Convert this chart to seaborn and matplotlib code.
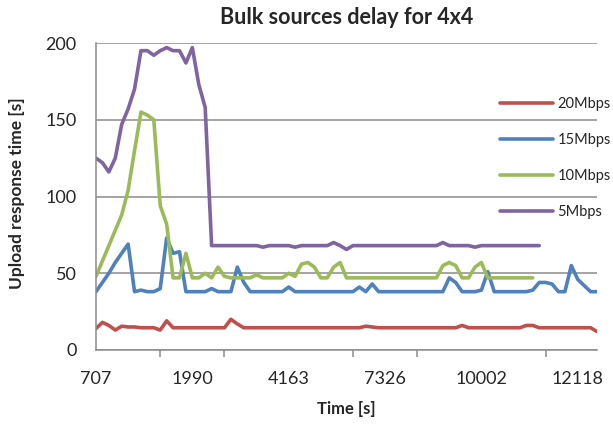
import numpy as np
import pandas as pd
import matplotlib
matplotlib.use('Agg')
import matplotlib.pyplot as plt
import seaborn as sns

## data (79 samples, category axis)
time_labels = ['707', '1990', '4163', '7326', '10002', '12118']
label_pos = [0, 15, 30, 45, 60, 75]

mbps20 = [14, 18, 16, 13, 15.5, 15, 15, 14.5, 14.5, 14.5,
          13, 19, 14.5, 14.5, 14.5, 14.5, 14.5, 14.5, 14.5, 14.5,
          14.5, 20, 17, 14.5, 14.5, 14.5, 14.5, 14.5, 14.5, 14.5,
          14.5, 14.5, 14.5, 14.5, 14.5, 14.5, 14.5, 14.5, 14.5, 14.5,
          14.5, 14.5, 15.5, 15, 14.5, 14.5, 14.5, 14.5, 14.5, 14.5,
          14.5, 14.5, 14.5, 14.5, 14.5, 14.5, 14.5, 16, 14.5, 14.5,
          14.5, 14.5, 14.5, 14.5, 14.5, 14.5, 14.5, 16, 16, 14.5,
          14.5, 14.5, 14.5, 14.5, 14.5, 14.5, 14.5, 14.5, 12]

mbps15 = [38, 44, 50, 57, 63, 69, 38, 39, 38, 38,
          40, 73, 63, 64, 38, 38, 38, 38, 40, 38,
          38, 38, 54, 44, 38, 38, 38, 38, 38, 38,
          41, 38, 38, 38, 38, 38, 38, 38, 38, 38,
          38, 41, 38, 43, 38, 38, 38, 38, 38, 38,
          38, 38, 38, 38, 38, 47, 44, 38, 38, 38,
          39, 51, 38, 38, 38, 38, 38, 38, 39, 44,
          44, 43, 38, 38, 55, 46, 42, 38, 38]

mbps10 = [48, 58, 68, 78, 88, 104, 130, 155, 153, 150,
          94, 82, 47, 47, 63, 47, 47, 50, 47, 54,
          48, 47, 47, 47, 47, 49, 47, 47, 47, 47,
          50, 48, 56, 57, 54, 47, 47, 54, 57, 47,
          47, 47, 47, 47, 47, 47, 47, 47, 47, 47,
          47, 47, 47, 47, 55, 57, 55, 47, 47, 54,
          57, 47, 47, 47, 47, 47, 47, 47, 47]

mbps5 = [125, 122, 116, 125, 147, 157, 170, 195, 195, 192,
         195, 197, 195, 195, 187, 197, 173, 158, 68, 68,
         68, 68, 68, 68, 68, 68, 67, 68, 68, 68,
         68, 67, 68, 68, 68, 68, 68, 70, 68, 65.5,
         68, 68, 68, 68, 68, 68, 68, 68, 68, 68,
         68, 68, 68, 68, 70, 68, 68, 68, 68, 67,
         68, 68, 68, 68, 68, 68, 68, 68, 68, 68]

series = {'20Mbps': mbps20, '15Mbps': mbps15, '10Mbps': mbps10, '5Mbps': mbps5}
colors = {'20Mbps': '#C0504D', '15Mbps': '#4F81BD', '10Mbps': '#9BBB59', '5Mbps': '#8064A2'}

frames = []
for name, vals in series.items():
    frames.append(pd.DataFrame({'idx': np.arange(len(vals)), 'delay': vals, 'series': name}))
df = pd.concat(frames, ignore_index=True)

sns.set_style('white')
plt.rcParams['font.family'] = ['Lato', 'DejaVu Sans']

fig = plt.figure(figsize=(6.13, 4.26), dpi=100)
ax = fig.add_axes([96 / 613, 1 - 350 / 426, 501 / 613, 307 / 426])

sns.lineplot(data=df, x='idx', y='delay', hue='series', hue_order=list(series.keys()),
             palette=colors, linewidth=2.6, ax=ax, sort=False)

ax.set_xlim(0, 78)
ax.set_ylim(0, 200)
ax.set_yticks([0, 50, 100, 150, 200])
ax.yaxis.grid(True, color='#8c8c8c', linewidth=1.1)
ax.set_axisbelow(True)

# labels every 15 samples, tick marks every 10
ax.set_xticks(label_pos)
ax.set_xticklabels(time_labels)
ax.set_xticks(np.arange(0, 78, 10), minor=True)
ax.tick_params(axis='x', which='major', length=0, pad=15, labelsize=13)
ax.tick_params(axis='x', which='minor', length=5, width=1.1, color='#8c8c8c', direction='out')
ax.tick_params(axis='y', length=5, width=1.1, color='#8c8c8c', direction='out', pad=9, labelsize=13)
ax.xaxis.set_tick_params(bottom=True, which='both')

for s in ['top', 'right']:
    ax.spines[s].set_visible(False)
for s in ['left', 'bottom']:
    ax.spines[s].set_color('#8c8c8c')
    ax.spines[s].set_linewidth(1.1)

ax.set_title('Bulk sources delay for 4x4', fontsize=15.5, fontweight='bold', pad=14)
ax.set_xlabel('Time [s]', fontsize=12, fontweight='bold', labelpad=10)
ax.set_ylabel('Upload response time [s]', fontsize=12.5, fontweight='bold')
ax.yaxis.set_label_coords(-71 / 501, (350 - 193) / 307)

ax.legend(title=None, frameon=False, fontsize=10.5, handlelength=3.6, handletextpad=0.35,
          labelspacing=1.5, borderpad=0, borderaxespad=0,
          loc='upper left', bbox_to_anchor=(500 / 613, 1 - 97 / 426),
          bbox_transform=fig.transFigure)

fig.savefig('out.png', dpi=100)
